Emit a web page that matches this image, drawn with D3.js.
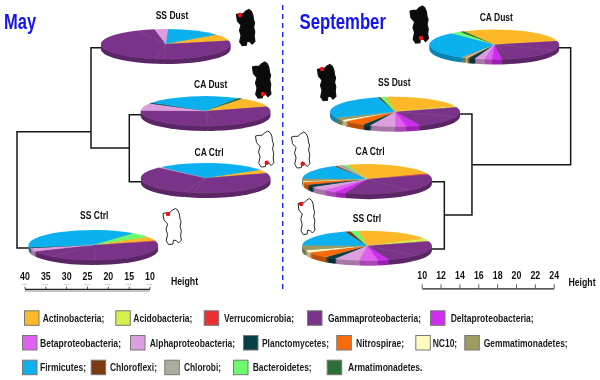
<!DOCTYPE html>
<html><head><meta charset="utf-8">
<script src="https://cdn.jsdelivr.net/npm/d3@7"></script>
<style>html,body{margin:0;background:#fff}svg{display:block;filter:blur(.3px)}text{font-family:"Liberation Sans",Arial,sans-serif}</style>
</head><body><svg id="c" width="600" height="380"></svg>
<script>
const categories = ["Actinobacteria","Acidobacteria","Verrucomicrobia","Gammaproteobacteria","Deltaproteobacteria","Betaproteobacteria","Alphaproteobacteria","Planctomycetes","Nitrospirae","NC10","Gemmatimonadetes","Firmicutes","Chloroflexi","Chlorobi","Bacteroidetes","Armatimonadetes"];
const colours = ["#fdb827","#d4f04a","#e8302e","#7a3389","#cf2cf0","#e060f0","#dd9ede","#063f45","#f96a0a","#fdfbc0","#9b9b62","#0bb0ef","#7a3b12","#adad9f","#6ffa6e","#2e6e38"];
const [Ac,Ad,Ve,Ga,De,Be,Al,Pl,Ni,NC,Ge,Fi,Cf,Cb,Ba,Ar] = categories;

// Clockwise slices, in percent. Repeated Gammaproteobacteria are the lower-level wedges visible in the picture.
const maySSDust = [[Fi,13.9],[Ac,6.9],[Ga,29.2],[Ga,1.9],[Ga,40.3],[Ga,4.4],[Al,3.3]];
const mayCADust = [[Fi,24.2],[Ar,1.4],[Ac,10.3],[Ga,27.2],[Ga,2.2],[Ga,26.1],[Al,7.8],[Pl,0.8]];
const mayCACtrl = [[Fi,28.3],[Ac,3.6],[Ga,33.3],[Ga,2.5],[Ga,31.7],[Al,0.6]];
const maySSCtrl = [[Fi,38.6],[Ba,5.3],[Ac,4.2],[Ve,0.6],[Ga,28.6],[Ga,11.7],[Ga,6.9],[Al,3.6],[Pl,0.6]];
const sepCADust = [[Ac,28.9],[Ga,10.3],[Ga,14.4],[Ga,2.2],[De,2.5],[Be,1.9],[Al,2.5],[Pl,1.7],[Ni,0.4],[NC,0.4],[Ge,0.8],[Cb,0.3],[Fi,30],[Ba,2.5],[Ar,1.1]];
const sepSSDust = [[Ac,21.1],[Ad,1.1],[Ve,0.3],[Ga,10.3],[Ga,13.1],[De,3.6],[Be,2.8],[Al,6.4],[Pl,1.9],[Ni,5.6],[NC,1.7],[Ge,2.8],[Fi,27.5],[Cf,0.6],[Ba,1.4]];
const sepCACtrl = [[Ac,23.9],[Ve,1.1],[Ga,18.6],[Ga,16.9],[De,2.8],[Be,3.3],[Al,4.4],[Pl,2.5],[Ni,3.1],[NC,1.1],[Ge,2.8],[Fi,15.8],[Cf,0.8],[Cb,1.9],[Ba,0.8]];
const sepSSCtrl = [[Ac,19.4],[Ad,2.8],[Ve,0.3],[Ga,16.4],[Ga,7.8],[De,2.8],[Be,4.7],[Al,6.4],[Pl,2.8],[Ni,6.4],[NC,2.5],[Ge,5.6],[Fi,18.9],[Cf,1.4],[Ba,1.9]];

const mayTicks = [40,35,30,25,20,15,10];
const sepTicks = [10,12,14,16,18,20,22,24];

// Sardinia outline, unit box
const islandOutline = [[.65,0],[.78,.05],[.86,.15],[.9,.3],[.95,.36],[.9,.5],[.96,.62],[.93,.75],[.97,.88],[.82,.96],[.7,.89],[.55,.88],[.52,.99],[.3,1],[.17,.9],[.24,.72],[.16,.58],[.24,.43],[.05,.32],[0,.14],[.14,.12],[.34,.12],[.48,.05]];

const svg = d3.select("#c");
const colour = d3.scaleOrdinal(categories, colours);
const pieGen = d3.pie().sort(null).value(d => d[1]);
const RX = 64.8, RY = 15, DEPTH = 5;
const arc = d3.arc().innerRadius(0).outerRadius(RX);

function condense(sel, ratio){
  sel.each(function(){
    const len = this.getComputedTextLength();
    d3.select(this).attr("textLength", len*ratio).attr("lengthAdjust","spacingAndGlyphs");
  });
  return sel;
}

// Horizontal scales of the two dendrograms
const xMay = d3.scaleLinear().domain([40,10]).range([24.5,149.5]);
const xSep = d3.scaleLinear().domain([10,24]).range([421.7,553.7]);

// Dendrograms: node heights read on the scales
const line = d3.line();
const treeG = svg.append("g").attr("fill","none").attr("stroke","#161616").attr("stroke-width",1.5);
const treeSegs = [
  [[101,47.7],[xMay(24.04),47.7],[xMay(24.04),148],[xMay(14.85),148]],
  [[141,114.7],[xMay(14.85),114.7],[xMay(14.85),181.7],[141,181.7]],
  [[xMay(24.04),131.7],[xMay(41.8),131.7],[xMay(41.8),248],[29,248]],
  [[431.7,181.7],[xSep(12.4),181.7],[xSep(12.4),249],[431.7,249]],
  [[xSep(12.4),215],[xSep(15.33),215],[xSep(15.33),114],[459,114]],
  [[xSep(15.33),164.7],[xSep(25.8),164.7],[xSep(25.8),47.7],[558,47.7]]
];
treeG.selectAll("path").data(treeSegs).join("path").attr("d", line);

// Pies
const pies = [
  {name:"SS Dust",data:maySSDust,start:2,cx:165.7,cy:44,tx:172,ty:15},
  {name:"CA Dust",data:mayCADust,start:303,cx:205.5,cy:111,tx:210.7,ty:84},
  {name:"CA Ctrl",data:mayCACtrl,start:316,cx:205.6,cy:178,tx:209,ty:152},
  {name:"SS Ctrl",data:maySSCtrl,start:260,cx:93.3,cy:245,tx:94.3,ty:215},
  {name:"CA Dust",data:sepCADust,start:332,cx:494.3,cy:44.5,tx:496.3,ty:17.3},
  {name:"SS Dust",data:sepSSDust,start:352,cx:395,cy:111.7,tx:394.3,ty:82.3},
  {name:"CA Ctrl",data:sepCACtrl,start:342,cx:367,cy:179,tx:370,ty:151},
  {name:"SS Ctrl",data:sepSSCtrl,start:352,cx:367,cy:245.7,tx:367,ty:218.3}
];
const rad = d => d*Math.PI/180;
pies.forEach(p => {
  const slices = pieGen.startAngle(rad(p.start)).endAngle(rad(p.start+360))(p.data);
  const g = svg.append("g").attr("transform",`translate(${p.cx},${p.cy})`);
  d3.range(DEPTH,0,-1).forEach(dy => {
    g.append("g").attr("transform",`translate(0,${dy}) scale(1,${RY/RX})`)
      .selectAll("path").data(slices).join("path")
      .attr("d",arc).attr("fill",d => d3.color(colour(d.data[0])).darker(.8));
  });
  g.append("g").attr("transform",`scale(1,${RY/RX})`)
    .selectAll("path").data(slices).join("path")
    .attr("d",arc).attr("fill",d => colour(d.data[0]))
    .attr("stroke","#fff").attr("stroke-opacity",.16).attr("stroke-width",.7);
  condense(svg.append("text").attr("x",p.tx).attr("y",p.ty).attr("dy",".35em").attr("text-anchor","middle")
    .attr("font-size",11.5).attr("font-weight","bold").attr("fill","#111").text(p.name),.74);
});

// Islands
const islands = [
  {x:236.5,y:9.5,w:19,h:36,dark:true,dx:240,dy:15},
  {x:252.5,y:62,w:19,h:36,dark:true,dx:263,dy:94},
  {x:255.5,y:131,w:19,h:36,dark:false,dx:266.7,dy:162.7},
  {x:163,y:208.5,w:19,h:36,dark:false,dx:168,dy:214},
  {x:410,y:6,w:19,h:37,dark:true,dx:421,dy:38},
  {x:317.5,y:64.5,w:19,h:36,dark:true,dx:322,dy:69},
  {x:291.5,y:132,w:19,h:36,dark:false,dx:302.7,dy:163.7},
  {x:298,y:198.5,w:17.5,h:36,dark:false,dx:301,dy:204}
];
islands.forEach(s => {
  const ix = d3.scaleLinear().range([s.x,s.x+s.w]);
  const iy = d3.scaleLinear().range([s.y,s.y+s.h]);
  const path = d3.line().x(d => ix(d[0])).y(d => iy(d[1])).curve(d3.curveLinearClosed);
  svg.append("path").attr("d",path(islandOutline))
    .attr("fill",s.dark?"#0b0b0b":"#fff").attr("stroke","#111").attr("stroke-width",s.dark?1.2:.9);
  svg.append("circle").attr("cx",s.dx).attr("cy",s.dy).attr("r",2.2).attr("fill","#f00f14");
});

// Separator
svg.append("line").attr("x1",282.7).attr("x2",282.7).attr("y1",5).attr("y2",293)
  .attr("stroke","#1a22ee").attr("stroke-width",1.4).attr("stroke-dasharray","5,4");

// Titles
condense(svg.append("text").attr("x",4).attr("y",29).attr("font-size",22).attr("font-weight","bold").attr("fill","#1414f0").text("May"),.75);
condense(svg.append("text").attr("x",299.5).attr("y",29).attr("font-size",22).attr("font-weight","bold").attr("fill","#1414f0").text("September"),.76);

// Axes
function drawAxis(scale,ticks,y,tSize){
  const g = svg.append("g").attr("transform",`translate(0,${y})`)
    .call(d3.axisTop(scale).tickValues(ticks).tickFormat(d3.format("d")).tickSizeOuter(0).tickSizeInner(tSize).tickPadding(5));
  g.select(".domain").attr("stroke","#222").attr("stroke-width",1.3);
  g.selectAll(".tick line").attr("stroke","#333").attr("stroke-width",.8);
  condense(g.selectAll("text").attr("font-size",11).attr("font-weight","bold").attr("font-family",null).attr("fill","#111"),.8);
  return g;
}
const gMay = drawAxis(xMay,mayTicks,289,2.5);
gMay.selectAll(".tick text").attr("y",-9);
svg.append("line").attr("x1",xMay(40)).attr("x2",xMay(10)).attr("y1",291.5).attr("y2",291.5).attr("stroke","#aaa").attr("stroke-width",.7);
svg.append("g").selectAll("line").data(mayTicks).join("line")
  .attr("x1",d => xMay(d)-2.5).attr("x2",d => xMay(d)+2.5).attr("y1",284.5).attr("y2",284.5)
  .attr("stroke","#aaa").attr("stroke-width",.8).attr("stroke-dasharray","1.2,.7");
const gSep = drawAxis(xSep,sepTicks,288.3,4);
gSep.selectAll(".tick text").attr("y",-9.5);
[[184.5,281],[582,281.7]].forEach(([hx,hy]) => {
  svg.append("text").attr("transform",`translate(${hx},${hy}) scale(.76,1)`).attr("dy",".35em").attr("text-anchor","middle")
    .attr("font-size",11.5).attr("font-weight","bold").attr("fill","#111").text("Height");
});

// Legend
const legendLayout = [
  {x:24,y:310.3,tx:42.7,w:61.7},{x:115.3,y:310.3,tx:133.3,w:59},{x:203.7,y:310.3,tx:224,w:70},
  {x:307,y:310.3,tx:328,w:93},{x:430,y:310.3,tx:450.7,w:83},
  {x:22,y:335,tx:40,w:81},{x:130,y:335,tx:149.7,w:85.5},{x:243,y:335,tx:262,w:67},
  {x:336.3,y:335,tx:356,w:48},{x:415.3,y:335,tx:432.7,w:24.5},{x:464.3,y:335,tx:483.7,w:84},
  {x:22,y:359.7,tx:40,w:46},{x:90.7,y:359.7,tx:110,w:47},{x:164.3,y:359.7,tx:184,w:37},
  {x:233,y:359.7,tx:252.7,w:59},{x:326.7,y:359.7,tx:348,w:74.5}
];
const suffix = i => i === categories.length-1 ? "." : ";";
const lg = svg.append("g").selectAll("g").data(categories).join("g");
lg.append("rect").attr("x",(d,i)=>legendLayout[i].x+.5).attr("y",(d,i)=>legendLayout[i].y+.5)
  .attr("width",14.5).attr("height",14.5).attr("fill",d=>colour(d)).attr("stroke","#777").attr("stroke-width",1);
lg.append("text").attr("x",(d,i)=>legendLayout[i].tx).attr("y",(d,i)=>legendLayout[i].y+7.7).attr("dy",".35em")
  .attr("font-size",11).attr("font-weight","bold").attr("fill","#1a1a1a")
  .attr("textLength",(d,i)=>legendLayout[i].w).attr("lengthAdjust","spacingAndGlyphs")
  .text((d,i)=>d+suffix(i));
</script></body></html>
